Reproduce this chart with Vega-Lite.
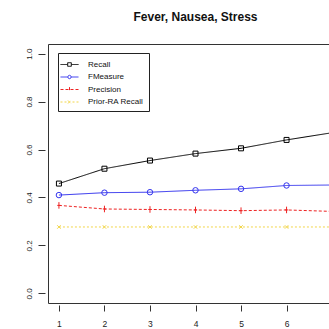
{
  "$schema": "https://vega.github.io/schema/vega-lite/v6.json",
  "autosize": "none",
  "width": 295,
  "height": 259,
  "padding": {"left": 48, "top": 44, "right": 0, "bottom": 26},
  "background": "white",
  "config": {
    "view": {"stroke": "#333333", "strokeWidth": 1},
    "font": "Liberation Sans",
    "axis": {"grid": false, "domain": false, "tickColor": "#333333", "labelColor": "#222222", "labelFontSize": 8, "labelFont": "Liberation Sans"}
  },
  "title": {"text": "Fever, Nausea, Stress", "fontSize": 12, "font": "Liberation Sans", "fontWeight": "bold", "anchor": "middle", "offset": 20, "color": "#111111"},
  "data": {"values": [
    {"k": 1, "series": "Recall", "value": 0.458},
    {"k": 2, "series": "Recall", "value": 0.52},
    {"k": 3, "series": "Recall", "value": 0.554},
    {"k": 4, "series": "Recall", "value": 0.583},
    {"k": 5, "series": "Recall", "value": 0.605},
    {"k": 6, "series": "Recall", "value": 0.64},
    {"k": 7, "series": "Recall", "value": 0.67},
    {"k": 1, "series": "FMeasure", "value": 0.41},
    {"k": 2, "series": "FMeasure", "value": 0.42},
    {"k": 3, "series": "FMeasure", "value": 0.422},
    {"k": 4, "series": "FMeasure", "value": 0.43},
    {"k": 5, "series": "FMeasure", "value": 0.436},
    {"k": 6, "series": "FMeasure", "value": 0.45},
    {"k": 7, "series": "FMeasure", "value": 0.452},
    {"k": 1, "series": "Precision", "value": 0.367},
    {"k": 2, "series": "Precision", "value": 0.352},
    {"k": 3, "series": "Precision", "value": 0.35},
    {"k": 4, "series": "Precision", "value": 0.348},
    {"k": 5, "series": "Precision", "value": 0.345},
    {"k": 6, "series": "Precision", "value": 0.348},
    {"k": 7, "series": "Precision", "value": 0.342},
    {"k": 1, "series": "Prior-RA Recall", "value": 0.277},
    {"k": 2, "series": "Prior-RA Recall", "value": 0.277},
    {"k": 3, "series": "Prior-RA Recall", "value": 0.277},
    {"k": 4, "series": "Prior-RA Recall", "value": 0.277},
    {"k": 5, "series": "Prior-RA Recall", "value": 0.277},
    {"k": 6, "series": "Prior-RA Recall", "value": 0.277},
    {"k": 7, "series": "Prior-RA Recall", "value": 0.277}
  ]},
  "encoding": {
    "x": {"field": "k", "type": "quantitative", "scale": {"domain": [0.76, 7.24], "nice": false, "zero": false},
      "axis": {"title": null, "values": [1, 2, 3, 4, 5, 6, 7], "offset": 2, "tickSize": 6, "labelPadding": 8, "labelFontSize": 8.5}},
    "y": {"field": "value", "type": "quantitative", "scale": {"domain": [-0.04, 1.04], "nice": false, "zero": false},
      "axis": {"title": null, "values": [0, 0.2, 0.4, 0.6, 0.8, 1.0], "format": ".1f", "offset": 3, "tickSize": 7, "labelAngle": -90, "labelAlign": "center", "labelBaseline": "bottom", "labelPadding": 5}},
    "color": {"field": "series", "type": "nominal",
      "scale": {"domain": ["Recall", "FMeasure", "Precision", "Prior-RA Recall"], "range": ["#000000", "#3333ee", "#ee2222", "#f2d64a"]},
      "legend": {"title": null, "orient": "none", "legendX": 10, "legendY": 9, "direction": "vertical",
        "strokeColor": "#222222", "fillColor": "white", "padding": 5, "cornerRadius": 0,
        "labelFontSize": 8, "labelFont": "Liberation Sans", "labelColor": "#111111", "labelOffset": 12, "rowPadding": 1.5,
        "symbolSize": 144, "symbolStrokeWidth": 1, "symbolType": "M-1.5,0H1.5",
        "encode": {"symbols": {"update": {
          "shape": {"signal": "datum.value === 'Recall' ? 'M-1.5,0H-0.35M0.35,0H1.5M-0.3,-0.3H0.3V0.3H-0.3Z' : datum.value === 'FMeasure' ? 'M-1.5,0H-0.3M0.3,0H1.5M0.28,0A0.28,0.28,0,1,1,-0.28,0A0.28,0.28,0,1,1,0.28,0' : datum.value === 'Precision' ? 'M-1.5,0H1.5M0,-0.4V0.4' : 'M-1.5,0H1.5M-0.25,-0.25L0.25,0.25M-0.25,0.25L0.25,-0.25'"},
          "strokeDash": {"signal": "datum.value === 'Precision' ? [3,2] : datum.value === 'Prior-RA Recall' ? [2,2] : [1,0]"},
          "fill": {"value": "transparent"},
          "strokeWidth": {"value": 1}
        }}}
      }
    }
  },
  "layer": [
    {
      "mark": {"type": "line", "strokeWidth": 1},
      "encoding": {
        "strokeDash": {"field": "series", "type": "nominal", "legend": null,
          "scale": {"domain": ["Recall", "FMeasure", "Precision", "Prior-RA Recall"], "range": [[1, 0], [1, 0], [3, 2], [2, 2]]}}
      }
    },
    {
      "transform": [{"filter": "datum.series === 'Recall'"}],
      "mark": {"type": "point", "filled": false, "strokeWidth": 1, "opacity": 1, "size": 25, "shape": "M-1,-1H1V1H-1Z"}
    },
    {
      "transform": [{"filter": "datum.series === 'FMeasure'"}],
      "mark": {"type": "point", "filled": false, "strokeWidth": 1, "opacity": 1, "size": 30, "shape": "circle"}
    },
    {
      "transform": [{"filter": "datum.series === 'Precision'"}],
      "mark": {"type": "point", "filled": false, "strokeWidth": 1, "opacity": 1, "size": 30, "shape": "M0,-1.2V1.2M-0.6,0H0.6"}
    },
    {
      "transform": [{"filter": "datum.series === 'Prior-RA Recall'"}],
      "mark": {"type": "point", "filled": false, "strokeWidth": 1, "opacity": 1, "size": 12, "shape": "M-1,-1L1,1M-1,1L1,-1"}
    }
  ]
}
